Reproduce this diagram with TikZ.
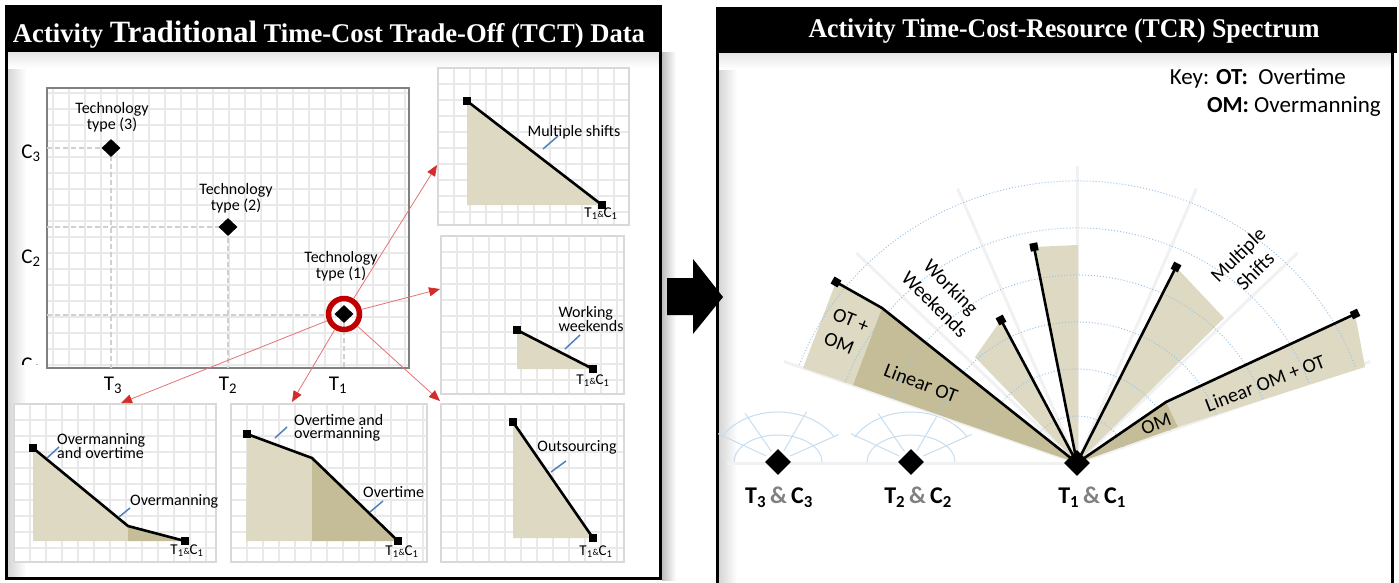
\documentclass[tikz,border=0pt]{standalone}
\usepackage{fontspec}
\setmainfont{Carlito}
\newfontfamily\headfont{Liberation Serif}
\usepackage{graphicx}
\usetikzlibrary{shapes.geometric,arrows.meta}

\definecolor{beige}{HTML}{DDD9C3}
\definecolor{khaki}{HTML}{C4BD97}
\definecolor{leader}{HTML}{4F81BD}
\definecolor{gridgray}{HTML}{E9E9E9}
\definecolor{framegray}{HTML}{D9D9D9}
\definecolor{axisgray}{HTML}{808080}
\definecolor{dashgray}{HTML}{D0D0D0}
\definecolor{ringred}{HTML}{C00000}
\definecolor{arrline}{HTML}{E57373}
\definecolor{arrtip}{HTML}{D42B2B}
\definecolor{polarblue}{HTML}{9DC3E6}
\definecolor{fanblue}{HTML}{C6DDF0}
\definecolor{raygray}{HTML}{F1F1F1}
\definecolor{ampgray}{HTML}{808080}

% light grid panel with a grey frame
\newcommand\gridbox[4]{%
  \pgfmathsetmacro\gxa{#1+16}\pgfmathsetmacro\gxb{#1+32}%
  \pgfmathsetmacro\gya{#2+16}\pgfmathsetmacro\gyb{#2+32}%
  \fill[white] (#1,-#2) rectangle (#3,-#4);
  \foreach \gx in {\gxa,\gxb,...,#3} {\draw[gridln] (\gx,-#2) -- (\gx,-#4);}
  \foreach \gy in {\gya,\gyb,...,#4} {\draw[gridln] (#1,-\gy) -- (#3,-\gy);}
  \draw[panelframe] (#1,-#2) rectangle (#3,-#4);
}
\newcommand\tandc{T\textsubscript{1}{\fontsize{9}{9}\selectfont\&}C\textsubscript{1}}
\newcommand\pairlabel[1]{\textbf{T\textsubscript{#1}\,{\color{ampgray}\&}\,C\textsubscript{#1}}}

\begin{document}
\begin{tikzpicture}[x=1pt,y=1pt,
  gridln/.style={draw=gridgray, line width=1.6pt},
  panelframe/.style={draw=framegray, line width=2.5pt},
  dataline/.style={line width=2.6pt, line join=round},
  mk/.style={rectangle, fill=black, minimum size=8pt, inner sep=0pt},
  leaderln/.style={draw=leader, line width=1.5pt},
  lbl/.style={font=\fontsize{16}{13}\selectfont, inner sep=0pt},
  techlbl/.style={font=\fontsize{16}{16}\selectfont, inner sep=0pt, align=center},
  axislbl/.style={font=\fontsize{21}{21}\selectfont, inner sep=0pt},
  tc/.style={font=\fontsize{15}{15}\selectfont, inner sep=0pt},
  diam/.style={diamond, fill=black, inner sep=0pt},
  dashln/.style={draw=dashgray, line width=1.5pt, dash pattern=on 5pt off 3pt},
  redarrow/.style={draw=arrline, line width=0.8pt, -{Triangle[length=11pt,width=9pt,color=arrtip]}},
  headbar/.style={fill=black},
  headtext/.style={text=white, inner sep=0pt, anchor=base},
  polar/.style={draw=polarblue, line width=1pt, dotted},
  fanln/.style={draw=fanblue, line width=1pt},
  ray/.style={draw=raygray, line width=3pt},
  fanlbl/.style={font=\fontsize{20}{21}\selectfont, inner sep=0pt},
  pairlbl/.style={font=\fontsize{24}{24}\selectfont, inner sep=0pt},
  keylbl/.style={font=\fontsize{23}{23}\selectfont, inner sep=0pt, anchor=east}]

\useasboundingbox (0,0) rectangle (1399,-582);

% ================= left panel frame =================
\shade[left color=black!25, right color=white] (662,-52) rectangle (676,-580);
\shade[left color=black!16, right color=white] (8,-52) rectangle (26,-577);
\shade[top color=black!10, bottom color=white] (8,-52) rectangle (659,-68);
\draw[line width=3pt] (6.5,-50) rectangle (660.5,-578.5);
\fill[headbar] (5,-5) rectangle (662,-51);
\node[headtext] (lhead) at (329,-42) {\resizebox{632pt}{\height}{\headfont\bfseries\fontsize{27}{30}\selectfont Activity {\fontsize{31}{30}\selectfont Traditional} Time-Cost Trade-Off (TCT) Data}};

% ================= right panel frame =================
\shade[left color=black!16, right color=white] (719,-53) rectangle (737,-582);
\shade[top color=black!10, bottom color=white] (719,-53) rectangle (1391,-69);
\draw[line width=3pt] (717.5,-50) -- (717.5,-585);
\draw[line width=3pt] (1392.5,-50) -- (1392.5,-585);
\fill[headbar] (716,-7) rectangle (1397,-53);
\node[headtext] (rhead) at (1064,-37) {\resizebox{511pt}{\height}{\headfont\bfseries\fontsize{27}{30}\selectfont Activity Time-Cost-Resource (TCR) Spectrum}};

% block arrow between the panels
\fill (667,-278) -- (693,-278) -- (693,-259) -- (723,-297) -- (693,-334) -- (693,-315) -- (667,-315) -- cycle;

% ================= TCT chart =================
\fill[white] (47,-88) rectangle (409,-368);
\foreach \gx in {53,69,...,405} {\draw[gridln] (\gx,-88) -- (\gx,-368);}
\foreach \gy in {93,109,...,365} {\draw[gridln] (47,-\gy) -- (409,-\gy);}
\draw[draw=axisgray, line width=2pt] (47,-88) rectangle (409,-368);

\draw[dashln] (47,-148) -- (111,-148) -- (111,-368);
\draw[dashln] (47,-227) -- (228,-227) -- (228,-368);
\draw[dashln] (47,-315) -- (344,-315) -- (344,-368);

\node[diam, minimum width=19pt, minimum height=18pt] (tech3) at (111,-148) {};
\node[diam, minimum width=19pt, minimum height=18pt] (tech2) at (228,-227) {};
\node[diam, minimum width=19pt, minimum height=18pt] (tech1) at (344,-314) {};
\node[circle, draw=ringred, line width=5.5pt, minimum size=31pt, inner sep=0pt] (ring) at (344,-314) {};

\node[techlbl] (lt3) at (112,-117) {Technology\\type (3)};
\node[techlbl] (lt2) at (236,-198) {Technology\\type (2)};
\node[techlbl] (lt1) at (341,-266) {Technology\\type (1)};

\node[axislbl] (c3) at (31,-153) {C\textsubscript{3}};
\node[axislbl] (c2) at (31,-258) {C\textsubscript{2}};
\begin{scope}
  \clip (15,-356) rectangle (45,-364);
  \node[axislbl] (c1) at (31,-366) {C\textsubscript{1}};
\end{scope}
\node[axislbl] (t3) at (113,-385) {T\textsubscript{3}};
\node[axislbl] (t2) at (228,-385) {T\textsubscript{2}};
\node[axislbl] (t1) at (338,-385) {T\textsubscript{1}};

% ================= option panels =================
\gridbox{438}{68}{629}{225}
\gridbox{441}{236}{624}{394}
\gridbox{441}{404}{624}{562}
\gridbox{14}{404}{216}{562}
\gridbox{231}{404}{427}{562}

% multiple shifts
\fill[beige] (467,-101) -- (602,-205) -- (467,-205) -- cycle;
\node[mk] (ms1) at (467,-101) {};
\node[mk] (ms2) at (602,-205) {};
\draw[dataline] (ms1.center) -- (ms2.center);
\draw[leaderln] (543,-149) -- (558,-136);
\node[lbl] (lms) at (574,-132) {Multiple shifts};
\node[tc] (tcms) at (601,-214) {\tandc};

% working weekends
\fill[beige] (517,-330) -- (593,-369) -- (517,-369) -- cycle;
\node[mk] (ww1) at (517,-330) {};
\node[mk] (ww2) at (593,-369) {};
\draw[dataline] (ww1.center) -- (ww2.center);
\draw[leaderln] (565,-349) -- (580,-335);
\node[lbl, align=left] (lww) at (591,-319) {Working\\weekends};
\node[tc] (tcww) at (593,-381) {\tandc};

% outsourcing
\fill[beige] (513,-422) -- (593,-538) -- (513,-538) -- cycle;
\node[mk] (os1) at (513,-422) {};
\node[mk] (os2) at (593,-538) {};
\draw[dataline] (os1.center) -- (os2.center);
\draw[leaderln] (551,-472) -- (566,-461);
\node[lbl] (los) at (577,-447) {Outsourcing};
\node[tc] (tcos) at (596,-552) {\tandc};

% overmanning
\fill[beige] (33,-448) -- (128,-526) -- (128,-541) -- (33,-541) -- cycle;
\fill[khaki] (128,-526) -- (185,-541) -- (128,-541) -- cycle;
\node[mk] (om1) at (33,-448) {};
\coordinate (om2) at (128,-526);
\node[mk] (om3) at (185,-541) {};
\draw[dataline] (om1.center) -- (om2) -- (om3.center);
\draw[leaderln] (47,-458) -- (59,-447);
\draw[leaderln] (119,-517) -- (130,-508);
\node[lbl, align=left, anchor=west] (lom1) at (57,-446) {Overmanning\\and overtime};
\node[lbl, anchor=west] (lom2) at (130,-501) {Overmanning};
\node[tc] (tcom) at (187,-551) {\tandc};

% overtime
\fill[beige] (247,-434) -- (312,-458) -- (312,-541) -- (246,-541) -- cycle;
\fill[khaki] (312,-458) -- (398,-541) -- (312,-541) -- cycle;
\node[mk] (ot1) at (247,-434) {};
\coordinate (ot2) at (312,-458);
\node[mk] (ot3) at (398,-541) {};
\draw[dataline] (ot1.center) -- (ot2) -- (ot3.center);
\draw[leaderln] (275,-438) -- (287,-427);
\draw[leaderln] (370,-512) -- (383,-501);
\node[lbl, align=left, anchor=west] (lot1) at (294,-428) {Overtime and\\overmanning};
\node[lbl, anchor=west] (lot2) at (363,-492) {Overtime};
\node[tc] (tcot) at (402,-552) {\tandc};

% red pointers from the circled technology
\coordinate (tipA) at (437,-165);
\coordinate (tipB) at (440,-289);
\coordinate (tipC) at (440,-401);
\coordinate (tipD) at (292,-402);
\coordinate (tipE) at (121,-403);
\foreach \t in {tipA,tipB,tipC,tipD,tipE} {\draw[redarrow] (ring) -- (\t);}

% ================= TCR spectrum =================
\coordinate (fc) at (1077,-463);

% small fans of the other technologies
\foreach \cx in {778,911} {
  \begin{scope}[shift={(\cx,-462)}]
    \draw[fanln] (0:44 and 27) arc[start angle=0, end angle=180, x radius=44, y radius=27];
    \draw[fanln] (30:65 and 50) arc[start angle=30, end angle=150, x radius=65, y radius=50];
    \foreach \a in {30,66,118,149} {\draw[fanln] (\a:14 and 12) -- (\a:70 and 55);}
  \end{scope}
}
\draw[ray] (727,-463) -- (fc);

% radial guide lines
\begin{scope}[shift={(1077,-463)}]
  \foreach \a in {20,45,67.5,90,112.5,135,160} {\draw[ray] (0,0) -- (\a:312 and 297);}
\end{scope}

% spectrum points
\coordinate (P1) at (836,-282);
\coordinate (K1) at (882,-308);
\coordinate (L1) at (853,-385);
\coordinate (E1) at (803,-368);
\coordinate (W) at (1001,-320);
\coordinate (Wb) at (975,-357);
\coordinate (U) at (1034,-247);
\coordinate (Ub) at (1078,-245);
\coordinate (Uc) at (1078,-463);
\coordinate (S) at (1176,-267);
\coordinate (Sb) at (1224,-318);
\coordinate (P2) at (1355,-314);
\coordinate (K2) at (1166,-402);
\coordinate (L2) at (1178,-427);
\coordinate (E2) at (1365,-367);

\fill[beige] (P1) -- (K1) -- (L1) -- (E1) -- cycle;
\fill[khaki] (K1) -- (fc) -- (L1) -- cycle;
\fill[beige] (fc) -- (Wb) -- (W) -- cycle;
\fill[beige] (fc) -- (U) -- (Ub) -- (Uc) -- cycle;
\fill[beige] (fc) -- (S) -- (Sb) -- cycle;
\fill[beige] (K2) -- (P2) -- (E2) -- (L2) -- cycle;
\fill[khaki] (fc) -- (K2) -- (L2) -- cycle;

% dotted polar rings
\begin{scope}[shift={(1077,-463)}]
  \foreach \r in {47,94,141,188,235,282} {
    \pgfmathsetmacro\ra{1.05*\r}
    \draw[polar] (20:{\ra} and {\r}) arc[start angle=20, end angle=160, x radius=\ra, y radius=\r];
  }
\end{scope}

\draw[dataline] (fc) -- (K1) -- (P1);
\draw[dataline] (fc) -- (W);
\draw[dataline] (fc) -- (U);
\draw[dataline] (fc) -- (S);
\draw[dataline] (fc) -- (K2) -- (P2);
\node[mk, rotate=-30] (mP1) at (P1) {};
\node[mk, rotate=28] (mW) at (W) {};
\node[mk, rotate=11] (mU) at (U) {};
\node[mk, rotate=63] (mS) at (S) {};
\node[mk, rotate=25] (mP2) at (P2) {};

\node[fanlbl, rotate=-22] (lot) at (851,-320) {OT +};
\node[fanlbl, rotate=-22] (lomx) at (839,-343) {OM};
\node[fanlbl, rotate=-21] (llot) at (921,-383) {Linear OT};
\node[fanlbl, rotate=-45] (lwk1) at (950,-288) {Working};
\node[fanlbl, rotate=-45] (lwk2) at (935,-304) {Weekends};
\node[fanlbl, rotate=45] (lms1) at (1239,-256) {Multiple};
\node[fanlbl, rotate=45] (lms2) at (1255,-271) {Shifts};
\node[fanlbl, rotate=21] (lom) at (1156,-424) {OM};
\node[fanlbl, rotate=21] (llomot) at (1265,-383) {Linear OM + OT};

\node[diam, minimum width=26pt, minimum height=26pt] (d3) at (778,-462) {};
\node[diam, minimum width=26pt, minimum height=26pt] (d2) at (911,-462) {};
\node[diam, minimum width=26pt, minimum height=26pt] (d1) at (fc) {};

\node[pairlbl] (p3) at (779,-497) {\pairlabel{3}};
\node[pairlbl] (p2) at (918,-497) {\pairlabel{2}};
\node[pairlbl] (p1) at (1092,-497) {\pairlabel{1}};

\node[keylbl] (key1) at (1346,-78) {Key: \textbf{OT:}\ \ Overtime};
\node[keylbl] (key2) at (1381,-107) {\textbf{OM:} Overmanning};

\end{tikzpicture}
\end{document}
